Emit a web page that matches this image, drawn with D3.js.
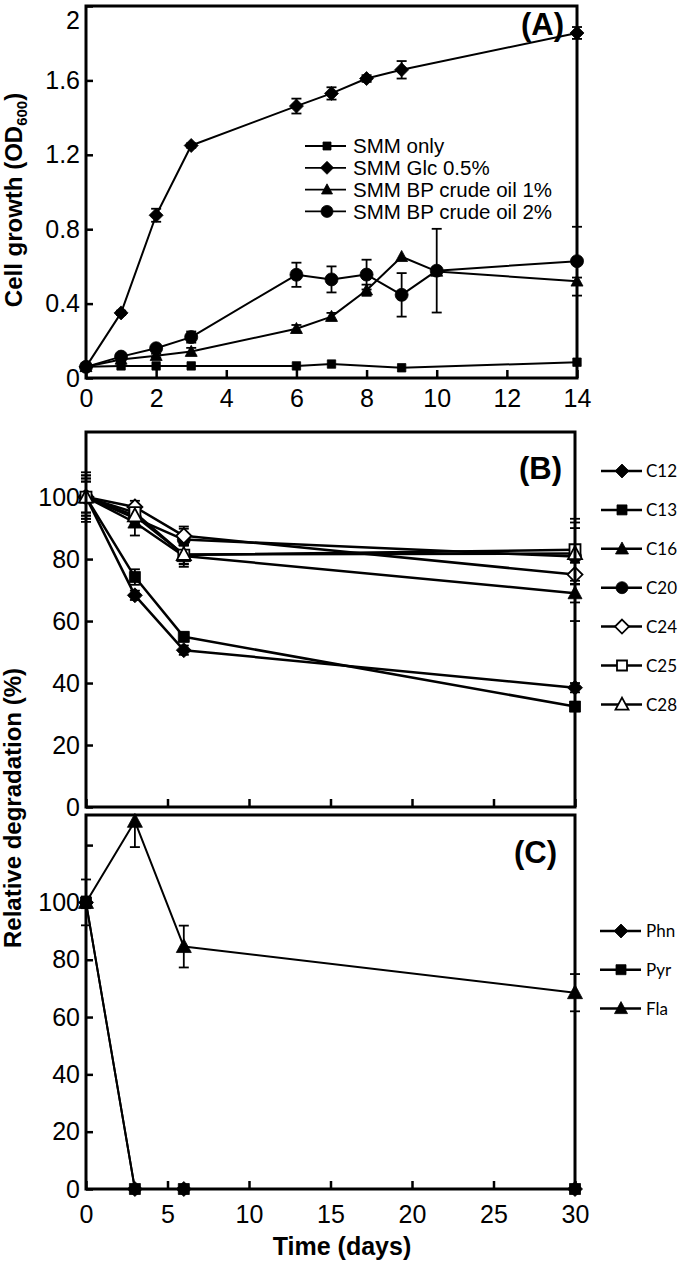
<!DOCTYPE html>
<html>
<head>
<meta charset="utf-8">
<script src="https://cdn.jsdelivr.net/npm/d3@7"></script>
<style>
  html, body { margin: 0; padding: 0; background: #fff; }
  svg { display: block; }
  text { font-family: "Liberation Sans", Arial, sans-serif; fill: #000; }
</style>
</head>
<body>
<svg id="chart" width="680" height="1264"></svg>
<script>
// ---------- Panel A data ----------
const daysA = [0, 1, 2, 3, 6, 7, 8, 9, 10, 14];
const ticksA_x = [0, 2, 4, 6, 8, 10, 12, 14];
const ticksA_y = [0, 0.4, 0.8, 1.2, 1.6, 2];
const tickLabelsA_y = ["0", "0.4", "0.8", "1.2", "1.6", "2"];
const namesA = ["SMM only", "SMM Glc 0.5%", "SMM BP crude oil 1%", "SMM BP crude oil 2%"];
const smmOnly    = [0.06, 0.065, 0.065, 0.065, 0.065, 0.075, null, 0.055, null, 0.085];
const smmOnlyErr = [0, 0, 0, 0, 0, 0, null, 0, null, 0];
const glc        = [0.06, 0.35, 0.875, 1.25, 1.462, 1.53, 1.61, 1.657, null, 1.855];
const glcErr     = [0, 0.012, 0.035, 0.012, 0.04, 0.033, 0.018, 0.047, null, 0.032];
const oil1       = [0.06, 0.10, 0.12, 0.142, 0.265, 0.33, 0.472, 0.652, 0.573, 0.52];
const oil1Err    = [0, 0.01, 0.01, 0.02, 0.02, 0.02, 0.03, 0, 0.02, 0.02];
const oil2       = [0.06, 0.115, 0.16, 0.22, 0.555, 0.53, 0.556, 0.447, 0.577, 0.628];
const oil2Err    = [0, 0.01, 0.01, 0.03, 0.065, 0.07, 0.08, 0.117, 0.225, 0.185];

// ---------- Panel B data ----------
const daysB = [0, 3, 6, 30];
const namesB = ["C12", "C13", "C16", "C20", "C24", "C25", "C28"];
const c12 = [100, 68.3, 50.6, 38.5];
const c13 = [100, 74.2, 54.9, 32.4];
const c16 = [100, 91.8, 81.0, 69.0];
const c20 = [100, 93.2, 86.3, 80.8];
const c24 = [100, 96.8, 87.5, 75.0];
const c25 = [100, 95.0, 81.3, 83.0];
const c28 = [100, 94.0, 81.5, 81.8];
const c12Err = [7, 1.5, 1.5, 1.5];
const c13Err = [7, 2.5, 1.5, 1.5];
const c16Err = [8, 4.2, 3.5, 3.0];
const c20Err = [6, 2.0, 3.5, 2.0];
const c24Err = [5, 2.0, 3.0, 15.0];
const c25Err = [5, 2.0, 3.0, 10.0];
const c28Err = [6, 3.0, 3.0, 10.0];

// ---------- Panel C data ----------
const daysC = [0, 3, 6, 30];
const namesC = ["Phn", "Pyr", "Fla"];
const phn = [100, 0, 0, 0];
const pyr = [100, 0, 0, 0];
const fla = [100, 128.3, 84.6, 68.5];
const phnErr = [2, 0, 0, 0];
const pyrErr = [2, 0, 0, 0];
const flaErr = [8, 9, 7.3, 6.5];

const ticksT = [0, 5, 10, 15, 20, 25, 30];
const ticksB_y = [0, 20, 40, 60, 80, 100];
const ticksC_y = [0, 20, 40, 60, 80, 100, 120];
const tickLabelsC_y = ["0", "20", "40", "60", "80", "100", ""];

// ---------- helpers ----------
const svg = d3.select("#chart");

function shapePath(type, s) {
  switch (type) {
    case "square": return `M${-s},${-s}H${s}V${s}H${-s}Z`;
    case "diamond": return `M0,${-s}L${s},0L0,${s}L${-s},0Z`;
    case "triangle": return `M0,${-s * 1.05}L${s},${s * 0.8}L${-s},${s * 0.8}Z`;
    case "circle": return `M${s},0A${s},${s} 0 1,1 ${-s},0A${s},${s} 0 1,1 ${s},0Z`;
  }
}

function drawPanel(cfg) {
  const g = svg.append("g");
  const { x, y } = cfg;
  const [x0, x1] = x.range();
  const [y0, y1] = y.range();

  // axes (inward ticks)
  const xAxis = d3.axisBottom(x).tickValues(cfg.xTicks).tickSize(-8).tickSizeOuter(0)
    .tickPadding(cfg.xPad).tickFormat(cfg.xLabels ? (d => d) : () => "");
  const gx = g.append("g").attr("transform", `translate(0,${y0})`).call(xAxis);
  const yAxis = d3.axisLeft(y).tickValues(cfg.yTicks).tickSize(-7).tickSizeOuter(0)
    .tickPadding(6).tickFormat((d, i) => cfg.yLabels[i]);
  const gy = g.append("g").attr("transform", `translate(${x0},0)`).call(yAxis);
  [gx, gy].forEach(a => {
    a.select(".domain").remove();
    a.selectAll(".tick line").attr("stroke", "#000").attr("stroke-width", 2.5);
    a.selectAll(".tick text").attr("font-size", 25).attr("fill", "#000")
      .style("font-family", "'Liberation Sans', Arial, sans-serif");
  });
  // keep the top y label inside the picture
  gy.selectAll(".tick text").filter(d => y(d) < 14).attr("dy", "0.9em");

  // series
  const lw = cfg.lineWidth;
  cfg.series.forEach(s => {
    const pts = cfg.days.map((d, i) => ({ d, v: s.values[i], e: s.err ? s.err[i] : 0 }))
      .filter(p => p.v !== null && p.v !== undefined);
    const eg = g.append("g");
    pts.filter(p => p.e > 0).forEach(p => {
      const cx = x(p.d);
      const top = y(Math.min(p.v + p.e, y.domain()[1]));
      const bot = y(Math.max(p.v - p.e, 0));
      eg.append("line").attr("x1", cx).attr("x2", cx).attr("y1", top).attr("y2", bot)
        .attr("stroke", "#000").attr("stroke-width", 1.8);
      if (p.v + p.e <= y.domain()[1])
        eg.append("line").attr("x1", cx - cfg.cap).attr("x2", cx + cfg.cap).attr("y1", top).attr("y2", top)
          .attr("stroke", "#000").attr("stroke-width", 1.8);
      eg.append("line").attr("x1", cx - cfg.cap).attr("x2", cx + cfg.cap).attr("y1", bot).attr("y2", bot)
        .attr("stroke", "#000").attr("stroke-width", 1.8);
    });
    g.append("path").datum(pts)
      .attr("d", d3.line().x(p => x(p.d)).y(p => y(p.v)))
      .attr("fill", "none").attr("stroke", "#000").attr("stroke-width", lw)
      .attr("stroke-linejoin", "round");
    s.pts = pts;
  });
  cfg.series.forEach(s => {
    g.append("g").selectAll("path").data(s.pts).join("path")
      .attr("transform", p => `translate(${x(p.d)},${y(p.v)})`)
      .attr("d", shapePath(s.shape, cfg.markerSize[s.shape]))
      .attr("fill", s.open ? "#fff" : "#000")
      .attr("stroke", "#000").attr("stroke-width", s.open ? 1.8 : 0.8);
  });

  // frame
  g.append("rect").attr("x", x0).attr("y", y1).attr("width", x1 - x0).attr("height", y0 - y1)
    .attr("fill", "none").attr("stroke", "#000").attr("stroke-width", 3);

  // panel label
  g.append("text").attr("x", cfg.labelPos[0]).attr("y", cfg.labelPos[1])
    .attr("text-anchor", "end").attr("font-size", 31).attr("font-weight", "bold")
    .text(cfg.label);

  // legend
  const L = cfg.legend;
  cfg.series.forEach((s, i) => {
    const ly = L.y0 + i * L.dy;
    g.append("line").attr("x1", L.x1).attr("x2", L.x2).attr("y1", ly).attr("y2", ly)
      .attr("stroke", "#000").attr("stroke-width", L.lw);
    g.append("path").attr("transform", `translate(${L.mx},${ly})`)
      .attr("d", shapePath(s.shape, L.size[s.shape]))
      .attr("fill", s.open ? "#fff" : "#000").attr("stroke", "#000")
      .attr("stroke-width", s.open ? 1.8 : 0.8);
    g.append("text").attr("x", L.tx).attr("y", ly).attr("dy", "0.36em")
      .attr("font-size", L.fs).style("font-family", L.font).text(s.name);
  });
}

// ---------- Panel A ----------
const xA = d3.scaleLinear().domain([0, 14]).range([86, 577]);
const yA = d3.scaleLinear().domain([0, 2]).range([378, 6]);
drawPanel({
  x: xA, y: yA, xTicks: ticksA_x, xLabels: true, xPad: 11,
  yTicks: ticksA_y, yLabels: tickLabelsA_y,
  days: daysA, lineWidth: 2, cap: 5,
  markerSize: { square: 4.2, diamond: 7, triangle: 6, circle: 6.5 },
  series: [
    { name: namesA[0], values: smmOnly, err: smmOnlyErr, shape: "square" },
    { name: namesA[1], values: glc, err: glcErr, shape: "diamond" },
    { name: namesA[2], values: oil1, err: oil1Err, shape: "triangle" },
    { name: namesA[3], values: oil2, err: oil2Err, shape: "circle" }
  ],
  label: "(A)", labelPos: [564, 35],
  legend: { x1: 305, x2: 346, mx: 327, tx: 353, y0: 146, dy: 21.8, lw: 1.8, fs: 20.5,
            font: "'Liberation Sans', Arial, sans-serif",
            size: { square: 4, diamond: 6.5, triangle: 5.5, circle: 6 } }
});

// ---------- Panel B ----------
const xT = d3.scaleLinear().domain([0, 30]).range([86, 575]);
const yB = d3.scaleLinear().domain([0, 121]).range([807, 432]);
drawPanel({
  x: xT, y: yB, xTicks: ticksT, xLabels: false, xPad: 10,
  yTicks: ticksB_y, yLabels: ticksB_y.map(String),
  days: daysB, lineWidth: 2.5, cap: 5,
  markerSize: { square: 5.5, diamond: 7.5, triangle: 7, circle: 6.5 },
  series: [
    { name: namesB[0], values: c12, err: c12Err, shape: "diamond" },
    { name: namesB[1], values: c13, err: c13Err, shape: "square" },
    { name: namesB[2], values: c16, err: c16Err, shape: "triangle" },
    { name: namesB[3], values: c20, err: c20Err, shape: "circle" },
    { name: namesB[4], values: c24, err: c24Err, shape: "diamond", open: true },
    { name: namesB[5], values: c25, err: c25Err, shape: "square", open: true },
    { name: namesB[6], values: c28, err: c28Err, shape: "triangle", open: true }
  ],
  label: "(B)", labelPos: [562, 479],
  legend: { x1: 601, x2: 642, mx: 622, tx: 646, y0: 471, dy: 38.9, lw: 2.5, fs: 17,
            font: "Lato, 'Open Sans', sans-serif",
            size: { square: 5, diamond: 7, triangle: 6.5, circle: 6 } }
});

// ---------- Panel C ----------
const yC = d3.scaleLinear().domain([0, 130.5]).range([1189, 815]);
drawPanel({
  x: xT, y: yC, xTicks: ticksT, xLabels: true, xPad: 16,
  yTicks: ticksC_y, yLabels: tickLabelsC_y,
  days: daysC, lineWidth: 2, cap: 5,
  markerSize: { square: 5.5, diamond: 7.5, triangle: 7.5, circle: 6.5 },
  series: [
    { name: namesC[0], values: phn, err: phnErr, shape: "diamond" },
    { name: namesC[1], values: pyr, err: pyrErr, shape: "square" },
    { name: namesC[2], values: fla, err: flaErr, shape: "triangle" }
  ],
  label: "(C)", labelPos: [557, 863],
  legend: { x1: 600, x2: 641, mx: 621, tx: 646, y0: 931, dy: 38.7, lw: 2.5, fs: 17,
            font: "Lato, 'Open Sans', sans-serif",
            size: { square: 5, diamond: 7, triangle: 6.5, circle: 6 } }
});

// ---------- axis titles ----------
const tA = svg.append("text").attr("transform", "translate(22,200) rotate(-90)")
  .attr("text-anchor", "middle").attr("font-size", 24).attr("font-weight", "bold");
tA.append("tspan").text("Cell growth (OD");
tA.append("tspan").attr("font-size", 15).attr("dy", 5).text("600");
tA.append("tspan").attr("dy", -5).text(")");

svg.append("text").attr("transform", "translate(21,808) rotate(-90)")
  .attr("text-anchor", "middle").attr("font-size", 24).attr("font-weight", "bold")
  .text("Relative degradation (%)");

svg.append("text").attr("x", 342).attr("y", 1255)
  .attr("text-anchor", "middle").attr("font-size", 25).attr("font-weight", "bold")
  .text("Time (days)");
</script>
</body>
</html>
